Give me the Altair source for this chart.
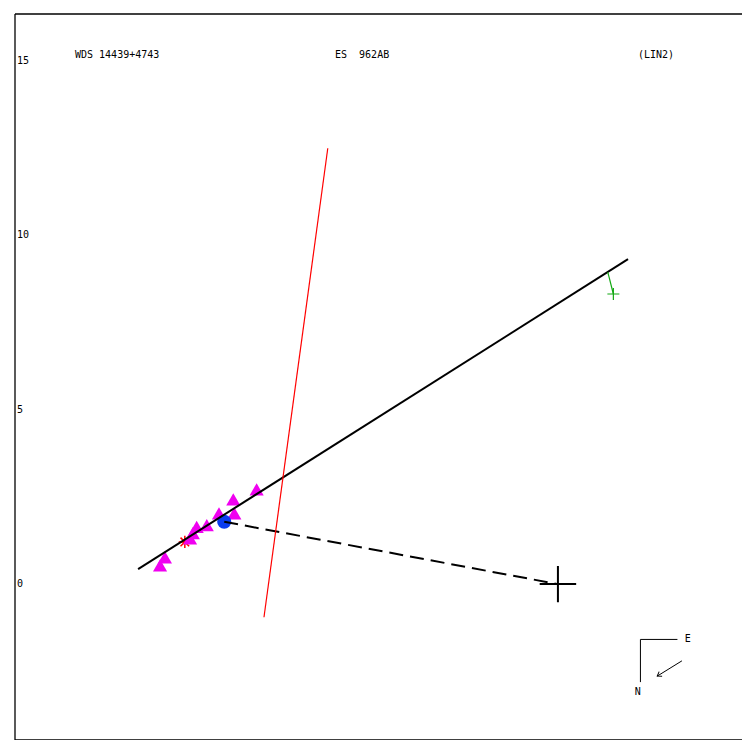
import altair as alt
import pandas as pd

# ---- data (plot units) ----
W, H = 727, 726
PX_PER_UNIT = 34.87
X_DOMAIN = [-15.57, -15.57 + W / PX_PER_UNIT]
Y_DOMAIN = [16.35 - H / PX_PER_UNIT, 16.35]

tri_x = [-8.64, -9.31, -9.28, -9.72, -10.36, -10.07, -10.55, -10.47, -11.27, -11.41]
tri_y = [2.72, 2.43, 2.03, 2.03, 1.64, 1.69, 1.31, 1.46, 0.77, 0.54]

blue_x = [-9.57]
blue_y = [1.79]

star_x = [-10.70]
star_y = [1.21]

fit_line = {"x": [-12.04], "y": [0.43], "x2": [2.01], "y2": [9.32]}
red_line = {"x": [-6.60], "y": [12.50], "x2": [-8.43], "y2": [-0.95]}
dash_line = {"x": [-9.57], "y": [1.79], "x2": [0.0], "y2": [0.0]}
green_line = {"x": [1.43], "y": [8.95], "x2": [1.59], "y2": [8.32]}
green_pt = {"x": [1.59], "y": [8.32]}
primary = {"x": [0.0], "y": [0.0]}

ytick_vals = [0, 5, 10, 15]
ytick_labels = ["0", "5", "10", "15"]

header_texts = ["WDS 14439+4743", "ES\u00a0\u00a0962AB", "(LIN2)"]
header_px = [60, 320, 623]

# compass (plot units)
compass_lines = {
    "x": [2.366, 2.366, 3.556],
    "y": [-1.586, -1.586, -2.200],
    "x2": [3.427, 2.366, 2.848],
    "y2": [-1.586, -2.81, -2.638],
}
arrow_tip = {"x": [2.848], "y": [-2.638]}
compass_lbl = {"x": [3.64, 2.20], "y": [-1.563, -3.083], "t": ["E", "N"]}

FONT = "DejaVu Sans Mono"

xs = alt.Scale(domain=X_DOMAIN, nice=False, zero=False)
ys = alt.Scale(domain=Y_DOMAIN, nice=False, zero=False)


def X(f="x"):
    return alt.X(f"{f}:Q", scale=xs, axis=None)


def Y(f="y"):
    return alt.Y(f"{f}:Q", scale=ys, axis=None)


def seg(d, **kw):
    return alt.Chart(pd.DataFrame(d)).mark_rule(**kw).encode(
        x=X(), y=Y(), x2=alt.X2("x2:Q"), y2=alt.Y2("y2:Q")
    )


CROSS = "M-1,0L1,0M0,-1L0,1"
ASTER = "M-1,0L1,0M0,-1L0,1M-0.7,-0.7L0.7,0.7M-0.7,0.7L0.7,-0.7"

star = alt.Chart(pd.DataFrame({"x": star_x, "y": star_y})).mark_point(
    shape=ASTER, size=150, filled=False, stroke="#ff0000", strokeWidth=1.5, opacity=1
).encode(x=X(), y=Y())

tris = alt.Chart(pd.DataFrame({"x": tri_x, "y": tri_y})).mark_point(
    shape="triangle-up", size=200, filled=True, color="#f000f0", opacity=1
).encode(x=X(), y=Y())

blue = alt.Chart(pd.DataFrame({"x": blue_x, "y": blue_y})).mark_point(
    shape="circle", size=200, filled=True, color="#0a3cf0", opacity=1
).encode(x=X(), y=Y())

fit = seg(fit_line, color="black", strokeWidth=2)
dash = seg(dash_line, color="black", strokeWidth=2, strokeDash=[14, 7])
red = seg(red_line, color="#ff0000", strokeWidth=1.2)
green = seg(green_line, color="#13a813", strokeWidth=1.2)

green_cross = alt.Chart(pd.DataFrame(green_pt)).mark_point(
    shape=CROSS, size=144, filled=False, stroke="#13a813", strokeWidth=1.2, opacity=1
).encode(x=X(), y=Y())

big_cross = alt.Chart(pd.DataFrame(primary)).mark_point(
    shape=CROSS, size=1330, filled=False, stroke="black", strokeWidth=2, opacity=1
).encode(x=X(), y=Y())

comp = seg(compass_lines, color="black", strokeWidth=1)
arrow = alt.Chart(pd.DataFrame(arrow_tip)).mark_point(
    shape="M-1,-0.7L0,0L-1,0.7", size=64, angle=148, filled=False,
    stroke="black", strokeWidth=1, opacity=1
).encode(x=X(), y=Y())
comp_txt = alt.Chart(pd.DataFrame(compass_lbl)).mark_text(
    font=FONT, fontSize=10, align="left", baseline="middle", color="black"
).encode(x=X(), y=Y(), text="t:N")

ylab = alt.Chart(pd.DataFrame({"y": ytick_vals, "t": ytick_labels})).mark_text(
    font=FONT, fontSize=10, align="left", baseline="middle", color="black"
).encode(x=alt.value(2), y=Y(), text="t:N")

header = alt.Chart(pd.DataFrame({"t": header_texts, "px": header_px})).mark_text(
    font=FONT, fontSize=10, align="left", baseline="middle", color="black"
).encode(x=alt.X("px:Q", scale=None, axis=None), y=alt.value(41), text="t:N")

# frame: top, left, bottom (right edge lies outside the picture)
frame_top = alt.Chart(pd.DataFrame({"k": [0]})).mark_rule(color="black", strokeWidth=1.3).encode(
    x=alt.value(0), x2=alt.value(W + 5), y=alt.value(0))
frame_left = alt.Chart(pd.DataFrame({"k": [0]})).mark_rule(color="black", strokeWidth=1.3).encode(
    x=alt.value(0), y=alt.value(0), y2=alt.value(H))
frame_bottom = alt.Chart(pd.DataFrame({"k": [0]})).mark_rule(color="black", strokeWidth=1.3).encode(
    x=alt.value(0), x2=alt.value(W + 5), y=alt.value(H))

chart = alt.layer(
    frame_top, frame_left, frame_bottom,
    star, tris, blue, fit, dash, red, green, green_cross, big_cross,
    comp, arrow, comp_txt, ylab, header
).properties(
    width=W, height=H,
    autosize=alt.AutoSizeParams(type="none"),
    padding={"left": 7, "top": 6, "right": 0, "bottom": 0},
    background="white",
).configure_view(stroke=None)

chart.save("out.html", embed_options={"renderer": "svg", "actions": False})
